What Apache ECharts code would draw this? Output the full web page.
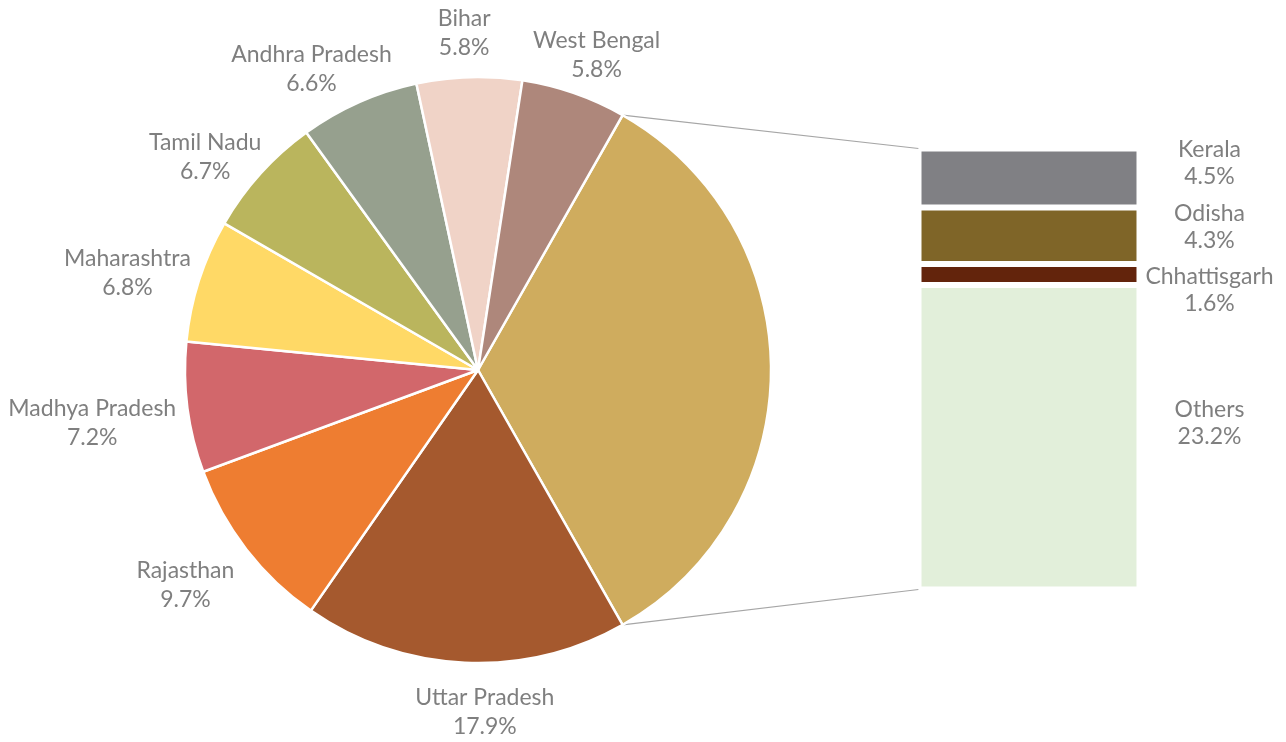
<!DOCTYPE html>
<html><head><meta charset="utf-8">
<script src="https://cdn.jsdelivr.net/npm/echarts@6/dist/echarts.min.js"></script>
<style>html,body{margin:0;padding:0;background:#fff}#c{width:1286px;height:742px}</style>
</head><body><div id="c"></div>
<script>
// ---- data ----
const pieNames = ['Uttar Pradesh','Rajasthan','Madhya Pradesh','Maharashtra','Tamil Nadu','Andhra Pradesh','Bihar','West Bengal'];
const pieValues = [17.9, 9.7, 7.2, 6.8, 6.7, 6.6, 5.8, 5.8];
const barNames = ['Kerala','Odisha','Chhattisgarh','Others'];
const barValues = [4.5, 4.3, 1.6, 23.2];
const groupName = 'Other states';

// ---- styles ----
const pieColors = ['#a5592e','#ee7d31','#d2676b','#ffd966','#bab55d','#96a08e','#f0d3c7','#ae877b'];
const groupColor = '#cfac5e';
const barColors = ['#808084','#7f6528','#63240c','#e2efda'];
const barLabelDy = [-15, -9, 16, -14];
// small per-label nudges (px) for the pie labels, in pie slice order
const labelNudge = [[22, 9], [-10, -4], [-1, 3], [2, 16], [-4, 30], [-20, 28], [-4, -6], [4, 15]];
const TEXT = '#7f7f7f', FONT = 'Lato', FS = 23;
const CX = 478, CY = 370, R = 293, GAP = 8;
const GRID = {left: 918.5, top: 148.5, width: 221, height: 441};

const groupValue = barValues.reduce((a, b) => a + b, 0);
const total = groupValue + pieValues.reduce((a, b) => a + b, 0);
const groupAngle = groupValue / total * 360;
const startAngle = groupAngle / 2;
const allValues = [groupValue].concat(pieValues);
const midAngles = [];
let cum = 0;
allValues.forEach(v => { midAngles.push(startAngle - (cum + v / 2) / total * 360); cum += v; });

const fmt = p => p.name + '\n' + Number(p.value).toFixed(1) + '%';

const pieData = [{name: groupName, value: groupValue, itemStyle: {color: groupColor}, label: {show: false}}]
  .concat(pieNames.map((n, i) => ({name: n, value: pieValues[i], itemStyle: {color: pieColors[i]}})));

const chart = echarts.init(document.getElementById('c'));
chart.setOption({
  animation: false,
  backgroundColor: '#fff',
  grid: Object.assign({containLabel: false}, GRID),
  xAxis: {type: 'category', data: [''], show: false},
  yAxis: {type: 'value', min: 0, max: groupValue, inverse: true, show: false},
  series: [{
    type: 'pie',
    center: [CX, CY],
    radius: R,
    startAngle: startAngle,
    clockwise: true,
    avoidLabelOverlap: false,
    itemStyle: {borderColor: '#fff', borderWidth: 2.5},
    label: {show: true, position: 'outside', formatter: fmt, color: TEXT, fontFamily: FONT, fontSize: FS, lineHeight: 29},
    labelLine: {show: false},
    labelLayout: function (params) {
      const idx = params.dataIndex;
      if (idx === 0) return {};
      const a = midAngles[idx] * Math.PI / 180;
      const ux = Math.cos(a), uy = -Math.sin(a);
      const w = params.labelRect.width, h = params.labelRect.height;
      const t = R + GAP + Math.abs(ux) * w / 2 + Math.abs(uy) * h / 2;
      const nd = labelNudge[idx - 1] || [0, 0];
      return {x: CX + ux * t + nd[0], y: CY + uy * t + nd[1], align: 'center', verticalAlign: 'middle'};
    },
    emphasis: {disabled: true},
    data: pieData
  }].concat(barNames.map((n, i) => ({
    type: 'bar',
    name: n,
    stack: 'g',
    barWidth: '100%',
    data: [{name: n, value: barValues[i]}],
    itemStyle: {color: barColors[i], borderColor: '#fff', borderWidth: 3},
    label: {show: true, position: 'right', distance: 70, align: 'center', verticalAlign: 'middle',
      offset: [0, barLabelDy[i]], formatter: fmt, color: TEXT, fontFamily: FONT, fontSize: FS, lineHeight: 27},
    emphasis: {disabled: true}
  })))
});

// connector lines from group slice edges to bar corners
const a1 = startAngle * Math.PI / 180, a2 = (startAngle - groupAngle) * Math.PI / 180;
const yTop = chart.convertToPixel({yAxisIndex: 0}, 0);
const yBot = chart.convertToPixel({yAxisIndex: 0}, groupValue);
const lineStyle = {stroke: '#a6a6a6', lineWidth: 1.2};
chart.setOption({graphic: [
  {type: 'line', silent: true, shape: {x1: CX + R * Math.cos(a1), y1: CY - R * Math.sin(a1), x2: GRID.left, y2: yTop}, style: lineStyle},
  {type: 'line', silent: true, shape: {x1: CX + R * Math.cos(a2), y1: CY - R * Math.sin(a2), x2: GRID.left, y2: yBot}, style: lineStyle}
]});
</script></body></html>
